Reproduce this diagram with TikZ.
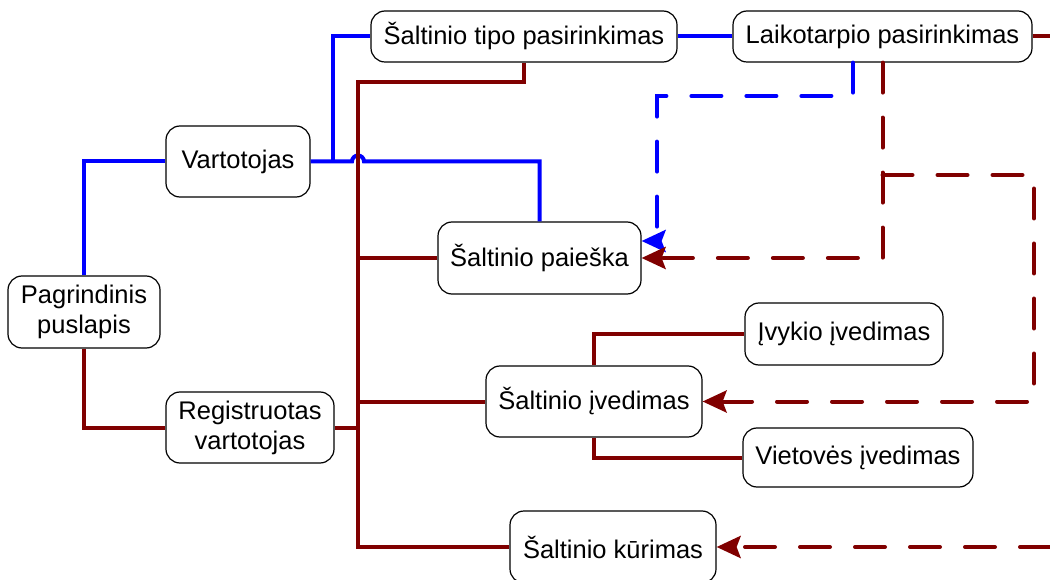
\documentclass[tikz,border=0pt]{standalone}
\usepackage{fontspec}
\setmainfont{Liberation Sans}
\usetikzlibrary{arrows.meta}

\definecolor{linkblue}{RGB}{0,0,255}
\definecolor{linkred}{RGB}{128,0,0}

\begin{document}
\begin{tikzpicture}[x=1pt,y=-1pt,
    stage/.style={draw,line width=1.2pt,rounded corners=14pt,inner sep=0pt,
      align=center,font=\fontsize{25.5}{30}\selectfont},
    bluelink/.style={draw=linkblue,line width=4pt},
    redlink/.style={draw=linkred,line width=4pt},
    bluedash/.style={bluelink,line cap=round,dash pattern=on 30pt off 25pt,
      -{Stealth[length=24pt,width=22pt,inset=4pt]}},
    reddash/.style={redlink,line cap=round,dash pattern=on 30pt off 25pt,
      -{Stealth[length=24pt,width=22pt,inset=4pt]}}]
        \useasboundingbox (0,0) rectangle (1050,580);

        % pages
        \node[stage,minimum width=152pt,minimum height=72pt] (pag) at (84,312) {Pagrindinis\\puslapis};
        \node[stage,minimum width=144pt,minimum height=71pt] (vart) at (238,161.5) {Vartotojas};
        \node[stage,minimum width=168pt,minimum height=71pt] (reg) at (250,427.5) {Registruotas\\vartotojas};
        \node[stage,minimum width=306pt,minimum height=51pt] (tipo) at (524,36.5) {Šaltinio tipo pasirinkimas};
        \node[stage,minimum width=299pt,minimum height=51pt] (laik) at (882.5,36.5) {Laikotarpio pasirinkimas};
        \node[stage,minimum width=203pt,minimum height=72pt] (paieska) at (539.5,258) {Šaltinio paieška};
        \node[stage,minimum width=198pt,minimum height=62pt] (ivykis) at (844,334) {Įvykio įvedimas};
        \node[stage,minimum width=216pt,minimum height=71pt] (ived) at (594,401.5) {Šaltinio įvedimas};
        \node[stage,minimum width=230pt,minimum height=59pt] (vieta) at (858,457.5) {Vietovės įvedimas};
        \node[stage,minimum width=206pt,minimum height=72pt] (kur) at (613,547) {Šaltinio kūrimas};

        % helper points
        \coordinate (split) at (333,161.5);
        \coordinate (bus) at (358,82);
        \coordinate (bluebend) at (657,96);
        \coordinate (redbend) at (882.5,175);
        \coordinate (redside) at (1034,175);
        \coordinate (outtop) at (1050,36.5);
        \coordinate (outbot) at (1050,547);

        % unregistered user
        \draw[bluelink] (pag.north) |- (vart.west);
        \draw[bluelink] (vart.east) -- (352,161.5) arc[start angle=180,end angle=0,radius=6pt]
          -- (paieska.north |- vart.east) -- (paieska.north);
        \draw[bluelink] (split) |- (tipo.west);
        \draw[bluelink] (tipo.east) -- (laik.west);
        \draw[bluedash] ([xshift=-29.5pt]laik.south) |- (bluebend) |- ([yshift=17pt]paieska.east);

        % registered user
        \draw[redlink] (pag.south) |- (reg.west);
        \draw[redlink] (reg.east) -- (bus |- reg.east);
        \draw[redlink] (tipo.south) |- (bus) -- (bus |- kur.west) -- (kur.west);
        \draw[redlink] (bus |- paieska.west) -- (paieska.west);
        \draw[redlink] (bus |- ived.west) -- (ived.west);
        \draw[redlink] (ived.north) |- (ivykis.west);
        \draw[redlink] (ived.south) |- (vieta.west);
        \draw[redlink] (laik.east) -- (outtop);
        \draw[reddash] (laik.south) |- (paieska.east);
        \draw[reddash] (redbend) -- (redside) |- (ived.east);
        \draw[reddash] (outbot) -- (kur.east);
    \end{tikzpicture}
\end{document}
